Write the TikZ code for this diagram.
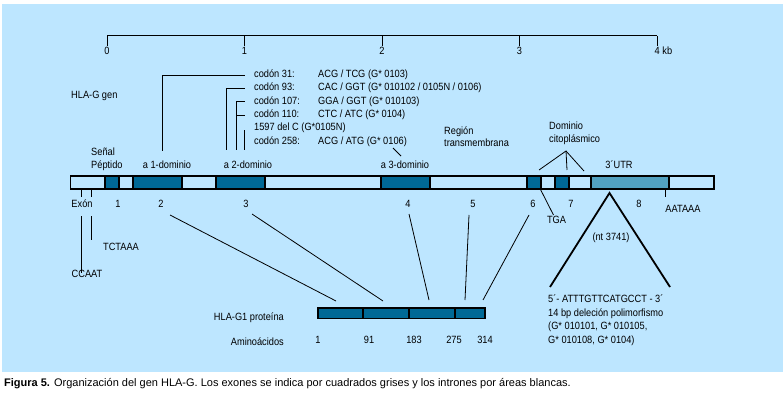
\documentclass[tikz,border=0pt]{standalone}
\usepackage{fontspec}
\setmainfont{Liberation Sans}[FakeStretch=0.88]
\newfontfamily\capfont{Liberation Sans}
\usepackage{tikz}
\definecolor{bgblue}{RGB}{189, 230, 255}
\definecolor{exonblue}{RGB}{0, 105, 150}
\definecolor{utrblue}{RGB}{82, 161, 192}

\begin{document}
\begin{tikzpicture}[x=1pt, y=-1pt,
	every node/.style={font=\fontsize{10.5}{13}\selectfont, inner sep=1pt, text height=7.5pt, text depth=2pt},
	lbl/.style={anchor=west},
	scaleline/.style={line width=1pt},
	barline/.style={draw, line width=1.3pt},
	exon/.style={draw, fill=exonblue, line width=1.3pt},
	utr/.style={draw, fill=utrblue, line width=1.3pt},
	lead/.style={line width=0.8pt},
	tri/.style={line width=1.8pt}]
			\useasboundingbox (0,0) rectangle (783,403);
			\fill[bgblue] (2,4) rectangle (783,372);
			\draw[scaleline] (107,36) -- (657,36);
			\foreach \k/\x in {0/107, 1/244.5, 2/382, 3/519.5} {
				\coordinate (s\k) at (\x,36);
				\node (kb\k) at (\x,52) {\k};
				\draw[scaleline] (s\k) -- ++(0,10);
			}
			\coordinate (s4) at (657,36);
			\node (kb4) at (653.5,52) [lbl] {4 kb};
			\draw[scaleline] (s4) -- ++(0,10);
			\node (gen) at (70,96) [lbl] {HLA-G gen};
			\node (c1) at (253,75) [lbl] {codón 31:};
			\node (g1) at (317,75) [lbl] {ACG / TCG (G* 0103)};
			\node (c2) at (253,88) [lbl] {codón 93:};
			\node (g2) at (317,88) [lbl] {CAC / GGT (G* 010102 / 0105N / 0106)};
			\node (c3) at (253,101.5) [lbl] {codón 107:};
			\node (g3) at (317,101.5) [lbl] {GGA / GGT (G* 010103)};
			\node (c4) at (253,115) [lbl] {codón 110:};
			\node (g4) at (317,115) [lbl] {CTC / ATC (G* 0104)};
			\node (c5) at (253,128) [lbl] {1597 del C (G*0105N)};
			\node (c6) at (253,141.5) [lbl] {codón 258:};
			\node (g6) at (317,141.5) [lbl] {ACG / ATG (G* 0106)};
			\coordinate (d1) at (162,151);
			\coordinate (d2) at (226,150);
			\coordinate (d3) at (236,150);
			\coordinate (d5) at (244,150);
			\draw[lead] (d1) |- ([xshift=-8pt]c1.west);
			\draw[lead] (d2) |- ([xshift=-8pt]c2.west);
			\draw[lead] (d3) |- ([xshift=-8pt]c3.west);
			\draw[lead] (d3 |- c4.west) -- ([xshift=-8pt]c4.west);
			\draw[lead] (d5) -- ++(0,-20);
			\coordinate (q1) at (393,148);
			\coordinate (q2) at (401,156);
			\draw[lead] (q1) -- (q2);
			\node (sp1) at (90,153) [lbl] {Señal};
			\node (sp2) at (90,166) [lbl] {Péptido};
			\node (a1) at (167,166) {a 1-dominio};
			\node (a2) at (248,166) {a 2-dominio};
			\node (a3) at (405,166) {a 3-dominio};
			\node (tm1) at (443,132) [lbl] {Región};
			\node (tm2) at (443,143.5) [lbl] {transmembrana};
			\node (cy1) at (548,127) [lbl] {Dominio};
			\node (cy2) at (548,140) [lbl] {citoplásmico};
			\node (utr) at (619,166) {3´UTR};
			\coordinate (cyt) at (566,151);
			\coordinate (cya) at (539,170);
			\coordinate (cyb) at (567,170);
			\coordinate (cyc) at (584,171);
			\draw[lead] (cya) -- (cyt) -- (cyc);
			\draw[lead] (cyt) -- (cyb);
			\draw[barline] (70.5,176) rectangle (714,189);
			\foreach \a/\b in {105/119, 133/182, 216/265, 381/430, 527/541, 555/569}
				\draw[exon] (\a,176) rectangle (\b,189);
			\draw[utr] (591,176) rectangle (669,189);
			\node (exn) at (82,205) {Exón};
			\foreach \n/\x in {1/118, 2/161, 3/246, 4/408, 5/473, 6/533, 7/571, 8/639}
				\node (ex\n) at (\x,205) {\n};
			\coordinate (b1) at (81,189);
			\coordinate (b2) at (91,189);
			\draw[lead] (b1) -- ++(0,8);
			\draw[lead] (b2) -- ++(0,8);
			\node (tct) at (121,248) {TCTAAA};
			\node (cca) at (87,275) {CCAAT};
			\draw[lead] (81,216) -- ([yshift=-4pt]cca.north -| b1);
			\draw[lead] (91,216) -- (91,240);
			\node (tga) at (556.5,221) {TGA};
			\coordinate (tg) at (540,188.5);
			\draw[lead] (tg) -- ([xshift=-3pt]tga.north);
			\node (aat) at (683,210) {AATAAA};
			\coordinate (pa) at (665.5,189);
			\draw[lead] (pa) -- ++(0,8.5);
			\coordinate (ta) at (609.5,193);
			\coordinate (tl) at (550,287);
			\coordinate (tr) at (670,287);
			\draw[tri] (tl) -- (ta) -- (tr);
			\node (nt) at (611,238) {(nt 3741)};
			\node (del1) at (547,300) [lbl] {5´- ATTTGTTCATGCCT - 3´};
			\node (del2) at (547,313.5) [lbl] {14 bp deleción polimorfismo};
			\node (del3) at (547,327) [lbl] {(G* 010101, G* 010105,};
			\node (del4) at (547,340.5) [lbl] {G* 010108, G* 0104)};
			\draw[exon] (318,308) rectangle (485,318.5);
			\foreach \x in {363, 409, 455}
				\draw[exon] (\x,308) -- (\x,318.5);
			\foreach \n/\a/\b/\c/\d in {2/170/215/336/301, 3/252/214/383/301, 4/409/214/429/300, 5/469/215/465/300, 6/529/215/483/300} {
				\coordinate (u\n) at (\a,\b);
				\coordinate (v\n) at (\c,\d);
				\draw[lead] (u\n) -- (v\n);
			}
			\node (prot) at (285,318) [anchor=east] {HLA-G1 proteína};
			\node (amino) at (285,343) [anchor=east] {Aminoácidos};
			\foreach \n/\x in {1/318, 91/369, 183/414, 275/454, 314/485}
				\node (aa\n) at (\x,341) {\n};
			\node (cap) at (3,384) [lbl, font=\capfont\fontsize{11}{13}\selectfont] {\textbf{Figura 5.} Organización del gen HLA-G. Los exones se indica por cuadrados grises y los intrones por áreas blancas.};
\end{tikzpicture}
\end{document}
